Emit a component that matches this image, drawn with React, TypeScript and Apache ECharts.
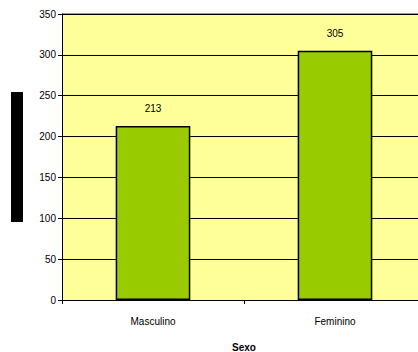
import React, { useEffect, useRef } from "react";
import * as echarts from "echarts";

const categories = ["Masculino", "Feminino"];
const values = [213, 305];
const yTicks = { min: 0, max: 350, interval: 50 };
const xTitle = "Sexo";

export default function App() {
  const ref = useRef<HTMLDivElement>(null);
  useEffect(() => {
    if (!ref.current) return;
    const chart = echarts.init(ref.current, undefined, { renderer: "svg" });
    chart.setOption({
      animation: false,
      grid: {
        left: 62,
        top: 14,
        width: 364,
        height: 286,
        show: true,
        backgroundColor: "#FFFF99",
        borderWidth: 0,
        containLabel: false,
        outerBoundsMode: "none",
      },
      graphic: [
        {
          type: "rect",
          shape: { x: 11, y: 92, width: 12, height: 130 },
          style: { fill: "#000" },
        },
        {
          type: "line",
          shape: { x1: 62, y1: 14, x2: 418, y2: 14 },
          style: { stroke: "#999", lineWidth: 2 },
        },
      ],
      xAxis: {
        type: "category",
        data: categories,
        name: xTitle,
        nameLocation: "middle",
        nameGap: 42,
        nameTextStyle: {
          fontFamily: "Liberation Sans, Arial",
          fontSize: 10,
          fontWeight: "bold",
          color: "#000",
        },
        axisLine: { lineStyle: { color: "#000", width: 1 } },
        axisTick: { show: true, length: 4, lineStyle: { color: "#000" } },
        axisLabel: {
          fontFamily: "Liberation Sans, Arial",
          fontSize: 10,
          color: "#000",
          margin: 16,
        },
      },
      yAxis: {
        type: "value",
        min: yTicks.min,
        max: yTicks.max,
        interval: yTicks.interval,
        axisLine: { show: true, lineStyle: { color: "#000", width: 1 } },
        axisTick: { show: true, length: 4, lineStyle: { color: "#000" } },
        splitLine: { show: true, lineStyle: { color: "#000", width: 1 } },
        axisLabel: {
          fontFamily: "Liberation Sans, Arial",
          fontSize: 10,
          color: "#000",
          margin: 6,
        },
      },
      series: [
        {
          type: "bar",
          data: values,
          barWidth: "41%",
          itemStyle: { color: "#99CC00", borderColor: "#000", borderWidth: 1.5 },
          label: {
            show: true,
            position: "top",
            distance: 12,
            fontFamily: "Liberation Sans, Arial",
            fontSize: 10,
            color: "#000",
          },
        },
      ],
    });
    return () => chart.dispose();
  }, []);
  return <div ref={ref} style={{ width: 418, height: 352, position: "absolute", left: 0, top: 0 }} />;
}
